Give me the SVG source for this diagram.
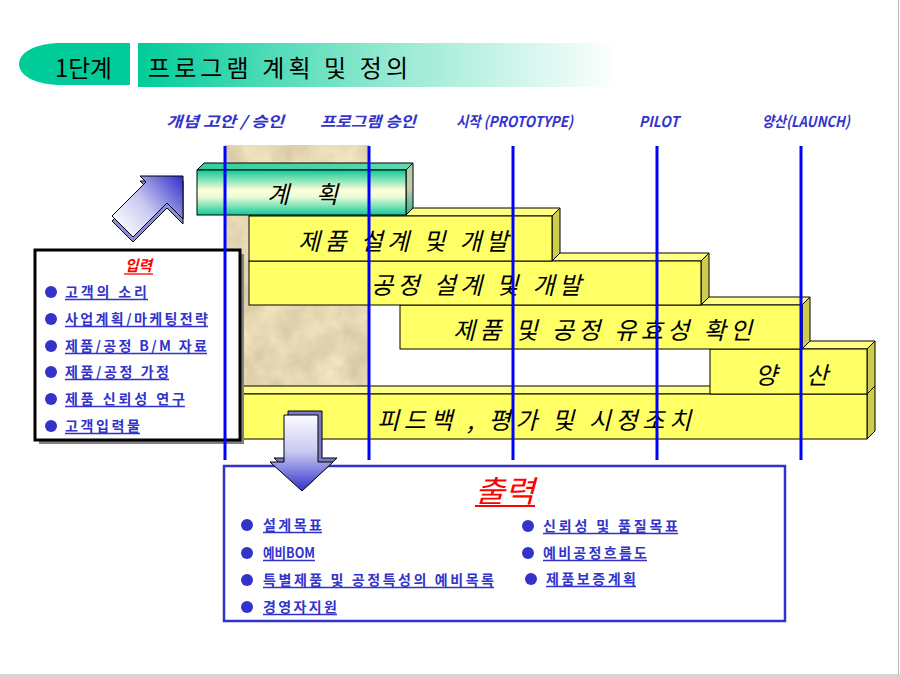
<svg xmlns="http://www.w3.org/2000/svg" width="900" height="677" viewBox="0 0 900 677">
<defs>
  <style>
    .bf{fill:#ffff66;stroke:#000;stroke-width:1}
    .bt{fill:#ffff88;stroke:#000;stroke-width:1}
    .bs{fill:#cccc4d;stroke:#000;stroke-width:1}
    .btx{font-family:"Noto Sans CJK KR","Noto Sans",sans-serif;font-size:24px;font-style:italic;fill:#000}
    .ms{font-family:"Noto Sans CJK KR","Noto Sans",sans-serif;font-size:15px;font-weight:bold;font-style:italic;fill:#3333cc}
    .it{font-family:"Noto Sans CJK KR","Noto Sans",sans-serif;font-size:14px;font-weight:bold;fill:#3333cc}
    .bul{fill:#3333cc}
    .ul{stroke:#3333cc;stroke-width:1.3;fill:none}
    .vl{stroke:#0000ff;stroke-width:3}
    .hd{font-family:"Noto Sans CJK KR","Noto Sans",sans-serif;font-size:24px;fill:#000}
  </style>
  <linearGradient id="hdr" x1="0" y1="0" x2="1" y2="0">
    <stop offset="0" stop-color="#00cc99"/>
    <stop offset="0.5" stop-color="#8ee8cf"/>
    <stop offset="1" stop-color="#ffffff"/>
  </linearGradient>
  <linearGradient id="planF" x1="0" y1="0" x2="0" y2="1">
    <stop offset="0" stop-color="#10c898"/>
    <stop offset="0.45" stop-color="#ffffd8"/>
    <stop offset="0.6" stop-color="#eafcd8"/>
    <stop offset="1" stop-color="#10c898"/>
  </linearGradient>
  <linearGradient id="planT" x1="0" y1="0" x2="1" y2="0">
    <stop offset="0" stop-color="#30d0a0"/>
    <stop offset="1" stop-color="#60d8b0"/>
  </linearGradient>
  <linearGradient id="planS" x1="0" y1="0" x2="0" y2="1">
    <stop offset="0" stop-color="#a8d0b0"/>
    <stop offset="0.5" stop-color="#c8c8a8"/>
    <stop offset="1" stop-color="#20b890"/>
  </linearGradient>
  <linearGradient id="upA" gradientUnits="userSpaceOnUse" x1="118" y1="232" x2="183" y2="178">
    <stop offset="0" stop-color="#ffffff"/>
    <stop offset="0.45" stop-color="#c8c8f0"/>
    <stop offset="1" stop-color="#3333cc"/>
  </linearGradient>
  <linearGradient id="dnA" gradientUnits="userSpaceOnUse" x1="0" y1="413" x2="0" y2="491">
    <stop offset="0" stop-color="#ffffff"/>
    <stop offset="0.5" stop-color="#c8c8f0"/>
    <stop offset="1" stop-color="#3333cc"/>
  </linearGradient>
  <filter id="marble" x="0" y="0" width="100%" height="100%" color-interpolation-filters="sRGB">
    <feTurbulence type="fractalNoise" baseFrequency="0.035" numOctaves="4" seed="7" result="n"/>
    <feColorMatrix in="n" type="matrix" values="0.2 0 0 0 0.80  0.2 0 0 0 0.74  0.2 0 0 0 0.60  0 0 0 0 1" result="c"/>
    <feComposite in="c" in2="SourceGraphic" operator="in"/>
  </filter>
</defs>

<rect width="900" height="677" fill="#ffffff"/>

<g id="header">
  <path d="M130,43 L62,43 C34,43 19,53 19,64 C19,75 34,85 62,85 L130,85 Z" fill="#00cc99"/>
  <text class="hd" x="55" y="77" textLength="57" lengthAdjust="spacingAndGlyphs">1단계</text>
  <rect x="138" y="43" width="480" height="44" fill="url(#hdr)"/>
  <text class="hd" x="148" y="77" textLength="260" lengthAdjust="spacing">프로그램 계획 및 정의</text>
</g>

<g id="milestones">
  <text class="ms" x="166" y="127" textLength="118" lengthAdjust="spacingAndGlyphs">개념 고안 / 승인</text>
  <text class="ms" x="320" y="127" textLength="96" lengthAdjust="spacingAndGlyphs">프로그램 승인</text>
  <text class="ms" x="456" y="127" textLength="117" lengthAdjust="spacingAndGlyphs">시작 (PROTOTYPE)</text>
  <text class="ms" x="639" y="127" textLength="40" lengthAdjust="spacingAndGlyphs">PILOT</text>
  <text class="ms" x="762" y="127" textLength="88" lengthAdjust="spacingAndGlyphs">양산(LAUNCH)</text>
</g>

<rect id="texture" x="225" y="145" width="144" height="250" fill="#e6d6b3" filter="url(#marble)"/>

<g id="bar-feedback">
  <polygon class="bt" points="232,394 240,386 875,386 867,394"/>
  <polygon class="bs" points="867,394 875,386 875,431 867,439"/>
  <rect class="bf" x="232" y="394" width="635" height="45"/>
  <text class="btx" x="377" y="429" textLength="314" lengthAdjust="spacing">피드백 , 평가 및 시정조치</text>
</g>
<g id="bar-mass">
  <polygon class="bt" points="710,349 718,341 875,341 867,349"/>
  <polygon class="bs" points="867,349 875,341 875,386 867,394"/>
  <rect class="bf" x="710" y="349" width="157" height="45"/>
  <text class="btx" x="755" y="384" textLength="73" lengthAdjust="spacing">양  산</text>
</g>
<g id="bar-validation">
  <polygon class="bt" points="400,305 408,297 810,297 802,305"/>
  <polygon class="bs" points="802,305 810,297 810,341 802,349"/>
  <rect class="bf" x="400" y="305" width="402" height="44"/>
  <text class="btx" x="453" y="339" textLength="299" lengthAdjust="spacing">제품 및 공정 유효성 확인</text>
</g>
<g id="bar-process">
  <polygon class="bt" points="249,261 257,253 709,253 701,261"/>
  <polygon class="bs" points="701,261 709,253 709,297 701,305"/>
  <rect class="bf" x="249" y="261" width="452" height="44"/>
  <text class="btx" x="371" y="294" textLength="210" lengthAdjust="spacing">공정 설계 및 개발</text>
</g>
<g id="bar-product">
  <polygon class="bt" points="249,216 257,208 560,208 552,216"/>
  <polygon class="bs" points="552,216 560,208 560,253 552,261"/>
  <rect class="bf" x="249" y="216" width="303" height="45"/>
  <text class="btx" x="298" y="250" textLength="210" lengthAdjust="spacing">제품 설계 및 개발</text>
</g>
<g id="bar-plan">
  <polygon points="197,170 204,163 413,163 406,170" fill="url(#planT)" stroke="#000" stroke-width="1"/>
  <polygon points="406,170 413,163 413,208 406,215" fill="url(#planS)" stroke="#000" stroke-width="1"/>
  <rect x="197" y="170" width="209" height="45" fill="url(#planF)" stroke="#000" stroke-width="1"/>
  <text class="btx" x="267" y="203" textLength="71" lengthAdjust="spacing">계  획</text>
</g>

<g id="input-box">
  <rect x="39" y="254" width="205" height="190" fill="#808080"/>
  <rect x="35" y="250" width="205" height="190" fill="#ffffff" stroke="#000" stroke-width="3"/>
  <text x="125" y="271" textLength="27" lengthAdjust="spacingAndGlyphs" style="font-family:'Noto Sans CJK KR',sans-serif;font-size:15px;font-weight:bold;font-style:italic;fill:#ff0000">입력</text>
  <line x1="124" y1="274" x2="153" y2="274" stroke="#ff0000" stroke-width="1.3"/>
  <circle class="bul" cx="51" cy="292" r="6"/>
  <text class="it" x="65" y="297" textLength="82" lengthAdjust="spacing">고객의  소리</text>
  <circle class="bul" cx="51" cy="319" r="6"/>
  <text class="it" x="65" y="324" textLength="143" lengthAdjust="spacing">사업계획/마케팅전략</text>
  <circle class="bul" cx="51" cy="346" r="6"/>
  <text class="it" x="65" y="351" textLength="142" lengthAdjust="spacing">제품/공정  B/M 자료</text>
  <circle class="bul" cx="51" cy="372" r="6"/>
  <text class="it" x="65" y="377" textLength="104" lengthAdjust="spacing">제품/공정 가정</text>
  <circle class="bul" cx="51" cy="399" r="6"/>
  <text class="it" x="65" y="404" textLength="120" lengthAdjust="spacing">제품 신뢰성 연구</text>
  <circle class="bul" cx="51" cy="426" r="6"/>
  <text class="it" x="65" y="431" textLength="75" lengthAdjust="spacing">고객입력물</text>
  <path class="ul" d="M65,299.5H148 M65,326.5H208 M65,353.5H207 M65,379.5H169 M65,406.5H185 M65,433.5H140"/>
</g>

<g id="milestone-lines">
  <line class="vl" x1="225" y1="146" x2="225" y2="460"/>
  <line class="vl" x1="369" y1="146" x2="369" y2="460"/>
  <line class="vl" x1="513" y1="146" x2="513" y2="460"/>
  <line class="vl" x1="657" y1="146" x2="657" y2="460"/>
  <line class="vl" x1="801" y1="146" x2="801" y2="460"/>
</g>

<g id="output-box">
  <rect x="224" y="466" width="561" height="155" fill="#ffffff" stroke="#3333cc" stroke-width="2.5"/>
  <text x="475" y="502" textLength="60" lengthAdjust="spacingAndGlyphs" style="font-family:'Noto Sans CJK KR',sans-serif;font-size:30px;font-style:italic;fill:#ff0000">출력</text>
  <line x1="475" y1="506" x2="535" y2="506" stroke="#ff0000" stroke-width="2"/>
  <circle class="bul" cx="247" cy="525" r="6"/>
  <text class="it" x="263" y="530" textLength="59" lengthAdjust="spacing">설계목표</text>
  <circle class="bul" cx="247" cy="553" r="6"/>
  <text class="it" x="263" y="558" textLength="52" lengthAdjust="spacingAndGlyphs">예비BOM</text>
  <circle class="bul" cx="247" cy="580" r="6"/>
  <text class="it" x="263" y="585" textLength="231" lengthAdjust="spacing">특별제품 및 공정특성의 예비목록</text>
  <circle class="bul" cx="247" cy="607" r="6"/>
  <text class="it" x="263" y="612" textLength="74" lengthAdjust="spacing">경영자지원</text>
  <circle class="bul" cx="528" cy="526" r="6"/>
  <text class="it" x="543" y="531" textLength="135" lengthAdjust="spacing">신뢰성 및 품질목표</text>
  <circle class="bul" cx="528" cy="553" r="6"/>
  <text class="it" x="543" y="558" textLength="104" lengthAdjust="spacing">예비공정흐름도</text>
  <circle class="bul" cx="531" cy="579" r="6"/>
  <text class="it" x="546" y="584" textLength="90" lengthAdjust="spacing">제품보증계획</text>
  <path class="ul" d="M263,532.5H322 M263,560.5H315 M263,587.5H494 M263,614.5H337 M543,533.5H678 M543,560.5H647 M546,586.5H636"/>
</g>

<g id="connectors">
  <g id="arrow-input">
    <polygon points="183,181 140,181 146,187 112,221 133,242 167,208 183,224" fill="#8c8cd8" stroke="#000" stroke-width="1"/>
    <polygon points="183,176 140,176 146,182 112,216 133,237 167,203 183,219" fill="url(#upA)" stroke="#000" stroke-width="1"/>
  </g>
  <g id="arrow-output">
    <polygon points="288,411 322,411 322,458 337,458 306,487 274,458 288,458" fill="#7a7ac8" stroke="#000" stroke-width="1"/>
    <polygon points="284,415 318,415 318,462 333,462 302,491 270,462 284,462" fill="url(#dnA)" stroke="#000" stroke-width="1"/>
  </g>
</g>

<rect x="0" y="674" width="900" height="3" fill="#d4d4d4"/>
<line x1="898.5" y1="0" x2="898.5" y2="674" stroke="#b8b8b8" stroke-width="1"/>
</svg>
